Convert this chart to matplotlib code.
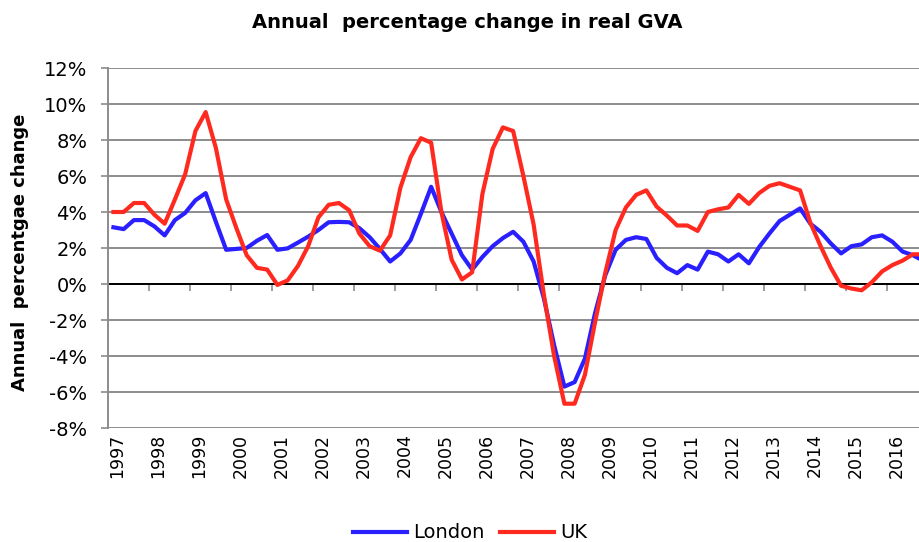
import matplotlib
matplotlib.use("Agg")
import matplotlib.pyplot as plt
import matplotlib.transforms as mtransforms

# quarterly annual % change, 1997 Q1 onwards
london = [3.15, 3.05, 3.55, 3.55, 3.2, 2.7, 3.55, 3.95, 4.65, 5.05,
          3.45, 1.9, 1.95, 2.0, 2.4, 2.72, 1.9, 1.98, 2.3, 2.63,
          3.0, 3.43, 3.45, 3.43, 3.1, 2.6, 1.95, 1.25, 1.7, 2.45,
          3.9, 5.4, 4.0, 2.8, 1.6, 0.8, 1.5, 2.1, 2.55, 2.9,
          2.35, 1.25, -0.8, -3.4, -5.7, -5.45, -4.15, -1.6, 0.5, 1.9,
          2.45, 2.6, 2.5, 1.45, 0.9, 0.6, 1.05, 0.8, 1.8, 1.65,
          1.25, 1.65, 1.15, 2.05, 2.8, 3.5, 3.85, 4.2, 3.35, 2.9,
          2.25, 1.7, 2.1, 2.2, 2.6, 2.7, 2.35, 1.8, 1.6, 1.3]
uk = [4.0, 4.0, 4.5, 4.5, 3.85, 3.35, 4.7, 6.1, 8.5, 9.55,
      7.55, 4.7, 3.1, 1.6, 0.9, 0.8, -0.05, 0.2, 1.0, 2.1,
      3.7, 4.4, 4.5, 4.1, 2.8, 2.1, 1.85, 2.7, 5.35, 7.05,
      8.1, 7.85, 4.0, 1.35, 0.25, 0.65, 5.0, 7.5, 8.7, 8.5,
      6.0, 3.3, -0.6, -4.0, -6.65, -6.65, -5.05, -2.1, 0.65, 3.0,
      4.25, 4.95, 5.2, 4.3, 3.8, 3.25, 3.25, 2.95, 4.0, 4.15,
      4.25, 4.95, 4.45, 5.05, 5.45, 5.6, 5.4, 5.2, 3.4, 2.1,
      0.9, -0.1, -0.25, -0.35, 0.1, 0.7, 1.05, 1.3, 1.65, 1.65]
years = list(range(1997, 2017))
yticks = [-8, -6, -4, -2, 0, 2, 4, 6, 8, 10, 12]

BLUE = "#2a1fff"
RED = "#ff2a1f"
GRID = "#8c8c8c"

plt.rcParams["font.family"] = "DejaVu Sans"

fig = plt.figure(figsize=(9.19, 5.42), dpi=100)
ax = fig.add_axes([108.3 / 919, 1 - 428 / 542, 1 - 108.3 / 919, (428 - 68) / 542])

q = list(range(len(london)))
ax.plot(q, london, color=BLUE, lw=3, label="London", solid_joinstyle="round")
ax.plot(q, uk, color=RED, lw=3, label="UK", solid_joinstyle="round")

ax.set_ylim(-8, 12)
ax.set_xlim(-0.5, 78.6)
ax.set_yticks(yticks)
ax.set_yticklabels([f"{v}%" for v in yticks], fontsize=14)
ax.yaxis.grid(True, color=GRID, lw=1.4)
ax.set_axisbelow(True)
ax.axhline(0, color="black", lw=1.4, zorder=1.5)

# year labels under the plot, tick marks on the zero line
ax.set_xticks([4 * k for k in range(len(years))])
ax.set_xticklabels([str(y) for y in years], rotation=90, fontsize=12.5)
ax.tick_params(axis="x", length=0, pad=4)
ax.tick_params(axis="y", length=5, color=GRID, width=1.2, pad=10)
shift = mtransforms.ScaledTranslation(4 / 100, 0, fig.dpi_scale_trans)
for lab in ax.get_xticklabels():
    lab.set_transform(lab.get_transform() + shift)
bounds = [4 * k - 0.5 for k in range(len(years))]
ax.vlines(bounds, -0.38, 0, color=GRID, lw=1.2, zorder=1.4)

for s in ["top", "right", "bottom"]:
    ax.spines[s].set_visible(False)
ax.spines["left"].set_color(GRID)
ax.spines["left"].set_linewidth(1.4)

fig.text(467 / 919, 1 - 22 / 542, "Annual  percentage change in real GVA",
         ha="center", va="center", fontsize=14, fontweight="bold")
fig.text(20 / 919, 1 - 252 / 542, "Annual  percentgae change", rotation=90,
         ha="center", va="center", fontsize=13, fontweight="bold")

fig.legend(loc="center", bbox_to_anchor=(470 / 919, 1 - 533 / 542), ncol=2,
           frameon=False, fontsize=14, handlelength=2.8, columnspacing=0.8,
           handletextpad=0.3)

fig.savefig("out.png", dpi=100)
